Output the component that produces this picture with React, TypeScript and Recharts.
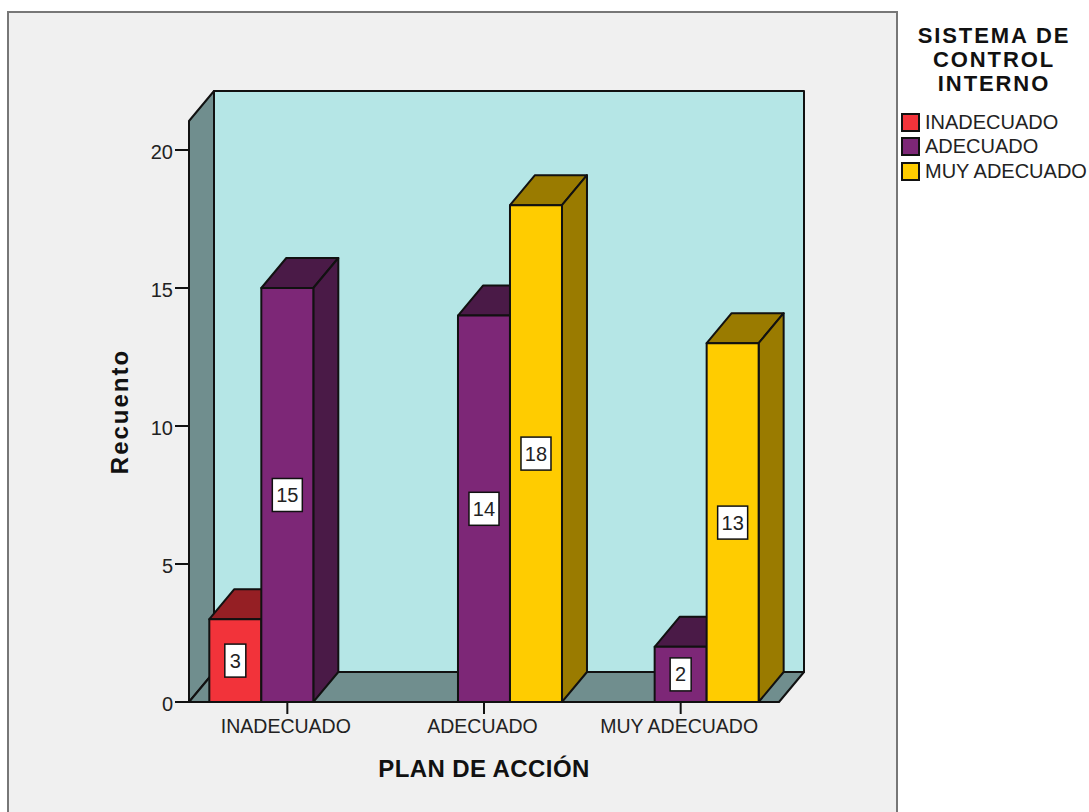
import { Bar, BarChart, LabelList, Legend, XAxis, YAxis, usePlotArea } from 'recharts'

const categories = ['INADECUADO', 'ADECUADO', 'MUY ADECUADO']
const inadecuado = [3, null, null]
const adecuado = [15, 14, 2]
const muyAdecuado = [null, 18, 13]
const yTicks = [0, 5, 10, 15, 20]
const legendTitle = ['SISTEMA DE', 'CONTROL', 'INTERNO']

const data = categories.map((name, i) => ({
  name,
  INADECUADO: inadecuado[i],
  ADECUADO: adecuado[i],
  'MUY ADECUADO': muyAdecuado[i],
}))

const FONT = '"Liberation Sans", Arial, sans-serif'
const DX = 25
const DY = 30
const EDGE = '#111'

// walls and floor sit behind the bars
function Box3D() {
  const plot = usePlotArea()
  if (!plot) return null
  const { x, y, width, height } = plot
  const bottom = y + height
  const right = x + width
  return (
    <g stroke={EDGE} strokeWidth={2} strokeLinejoin="round">
      <rect x={x + DX} y={y - DY} width={width} height={height} fill="#b5e6e6" />
      <polygon
        points={`${x},${y} ${x + DX},${y - DY} ${x + DX},${bottom - DY} ${x},${bottom}`}
        fill="#708e8e"
      />
      <polygon
        points={`${x},${bottom} ${right},${bottom} ${right + DX},${bottom - DY} ${x + DX},${bottom - DY}`}
        fill="#708e8e"
      />
    </g>
  )
}

function bar3D(side: string) {
  return (props: any) => {
    const { x, y, width: w, height: h, fill, value } = props
    if (value == null || !h) return <g />
    return (
      <g stroke={EDGE} strokeWidth={2} strokeLinejoin="round">
        <polygon points={`${x},${y} ${x + w},${y} ${x + w + DX},${y - DY} ${x + DX},${y - DY}`} fill={side} />
        <polygon
          points={`${x + w},${y} ${x + w + DX},${y - DY} ${x + w + DX},${y + h - DY} ${x + w},${y + h}`}
          fill={side}
        />
        <rect x={x} y={y} width={w} height={h} fill={fill} />
      </g>
    )
  }
}

function ValueBox(props: any) {
  const { x, y, width, height, value } = props
  if (value == null) return null
  const cx = x + width / 2
  const cy = y + height / 2
  const boxW = String(value).length > 1 ? 30 : 21
  return (
    <g>
      <rect x={cx - boxW / 2} y={cy - 16.5} width={boxW} height={33} fill="#fff" stroke="#111" strokeWidth={1.5} />
      <text x={cx} y={cy + 7} textAnchor="middle" fontFamily={FONT} fontSize={20} fill="#222">
        {value}
      </text>
    </g>
  )
}

function LegendBlock({ payload }: any) {
  return (
    <div style={{ fontFamily: FONT, width: 188 }}>
      <div
        style={{
          width: 186,
          fontWeight: 700,
          fontSize: 22,
          lineHeight: '24px',
          letterSpacing: 1.9,
          textAlign: 'center',
          color: '#111',
        }}
      >
        {legendTitle.map(t => (
          <div key={t}>{t}</div>
        ))}
      </div>
      <div style={{ marginTop: 14 }}>
        {(payload ?? []).map((item: any) => (
          <div key={item.value} style={{ display: 'flex', alignItems: 'center', height: 24.5 }}>
            <span
              style={{
                boxSizing: 'border-box',
                width: 19,
                height: 19,
                background: item.color,
                border: `2px solid ${EDGE}`,
                marginRight: 5,
              }}
            />
            <span style={{ fontSize: 20, color: '#222', whiteSpace: 'nowrap' }}>{item.value}</span>
          </div>
        ))}
      </div>
    </div>
  )
}

export default function App() {
  return (
    <div style={{ position: 'absolute', left: 0, top: 0, width: 1089, height: 812, overflow: 'hidden', background: '#fff' }}>
      <div
        style={{
          position: 'absolute',
          left: 7,
          top: 11,
          width: 887,
          height: 820,
          background: '#f0f0f0',
          border: '2px solid #777',
        }}
      />
      <div style={{ position: 'absolute', left: 0, top: 0 }}>
        <BarChart
          width={1089}
          height={812}
          data={data}
          margin={{ top: 121, right: 310, bottom: 30, left: 109 }}
          barCategoryGap="10.33%"
          barGap={0}
        >
          <Box3D />
          <XAxis
            dataKey="name"
            height={80}
            axisLine={false}
            tickLine={{ stroke: EDGE, strokeWidth: 2 }}
            tickSize={12}
            tickMargin={5}
            interval={0}
            tick={{ fontFamily: FONT, fontSize: 19.5, fill: '#222', dx: -1.5 }}
            label={{
              value: 'PLAN DE ACCIÓN',
              position: 'insideBottom',
              offset: 5,
              style: { fontFamily: FONT, fontSize: 24, fontWeight: 700, fill: '#111', letterSpacing: 0.4 },
            }}
          />
          <YAxis
            width={80}
            domain={[0, 21.05]}
            ticks={yTicks}
            allowDataOverflow
            axisLine={false}
            tickLine={{ stroke: EDGE, strokeWidth: 2 }}
            tickSize={14}
            tickMargin={2}
            tick={{ fontFamily: FONT, fontSize: 20, fill: '#222', dy: 2 }}
            label={{
              value: 'Recuento',
              angle: -90,
              position: 'insideLeft',
              offset: 10,
              style: { fontFamily: FONT, fontSize: 24, fontWeight: 700, fill: '#111', letterSpacing: 2, textAnchor: 'middle' },
            }}
          />
          <Legend
            layout="vertical"
            align="center"
            verticalAlign="middle"
            itemSorter={null}
            wrapperStyle={{ left: 901, top: 24, width: 188 }}
            content={<LegendBlock />}
          />
          <Bar dataKey="INADECUADO" fill="#f2333a" shape={bar3D('#951f24')} isAnimationActive={false}>
            <LabelList dataKey="INADECUADO" content={<ValueBox />} />
          </Bar>
          <Bar dataKey="ADECUADO" fill="#7d2777" shape={bar3D('#4a1a47')} isAnimationActive={false}>
            <LabelList dataKey="ADECUADO" content={<ValueBox />} />
          </Bar>
          <Bar dataKey="MUY ADECUADO" fill="#ffcc00" shape={bar3D('#9a7b00')} isAnimationActive={false}>
            <LabelList dataKey="MUY ADECUADO" content={<ValueBox />} />
          </Bar>
        </BarChart>
      </div>
    </div>
  )
}
